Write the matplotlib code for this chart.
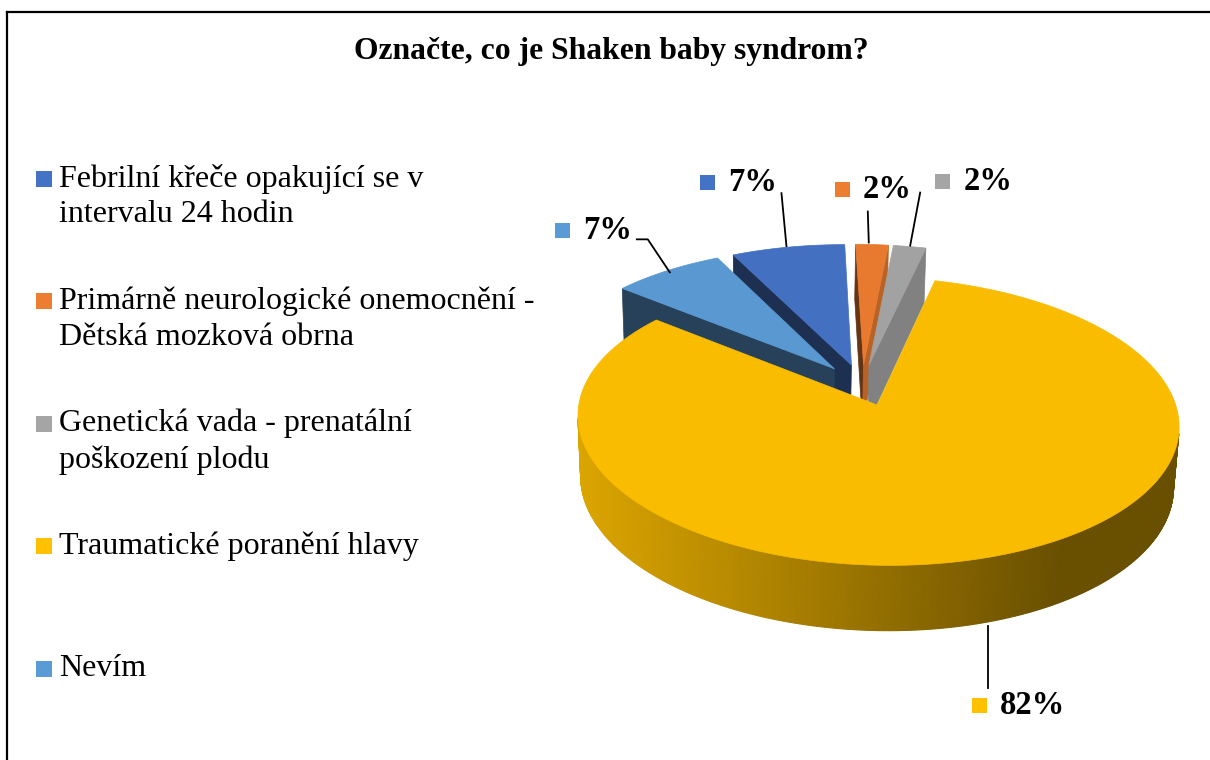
import numpy as np
import matplotlib.pyplot as plt
from matplotlib.patches import Polygon, Rectangle
from matplotlib.lines import Line2D
from matplotlib.colors import to_rgb

# data
categories = [
    "Febrilní křeče opakující se v\nintervalu 24 hodin",
    "Primárně neurologické onemocnění -\nDětská mozková obrna",
    "Genetická vada - prenatální\npoškození plodu",
    "Traumatické poranění hlavy",
    "Nevím",
]
values = [7, 2, 2, 82, 7]
colors = ["#4472C4", "#ED7D31", "#A5A5A5", "#FFC000", "#5B9BD5"]
title = "Označte, co je Shaken baby syndrom?"

# label placement relative to rim point (leader path, then label group left/centre)
leaders = [[(-1.4, -1), (-6.4, -54)],
           [(-3.3, -2), (-4.3, -33)],
           [(0.5, -1), (10.5, -54)],
           [(-0.7, 4), (-0.7, 66)],
           [(3, 1.5), (-19, -31.5), (-30, -31.5)]]
label_pos = [(-87.4, -65), (-37.3, -55), (25.5, -65), (-16.2, 84), (-112, -40.5)]

# 3d pie setup (pixels), camera sits a little left of the pie centre
CX, CY = 774, 385
F, DIST, TILT = 2350.0, 8.0, np.radians(28)
CAM_X = -0.3
THICK = 0.233
EXPLODE = 0.15
START = 335.0
serif = ["Liberation Serif", "DejaVu Serif"]


def proj(X, Y, Z):
    X, Y, Z = np.asarray(X, float), np.asarray(Y, float), np.asarray(Z, float)
    depth = DIST + Y * np.cos(TILT) - Z * np.sin(TILT)
    up = Y * np.sin(TILT) + Z * np.cos(TILT)
    return CX + F * (X - CAM_X) / depth, CY - F * up / depth


def shade(c, k):
    r, g, b = to_rgb(c)
    return (r * k, g * k, b * k)


def visible(px, py, nx, ny):
    # vertical face, normal (nx, ny) - facing the camera?
    cam_y = -DIST * np.cos(TILT)
    return (CAM_X - px) * nx + (cam_y - py) * ny > 0


fig = plt.figure(figsize=(12.1, 7.6), dpi=100)
ax = fig.add_axes([0, 0, 1, 1])
ax.set_xlim(0, 1210)
ax.set_ylim(760, 0)
ax.axis("off")

total = sum(values)
slices = []
a = START
for i, v in enumerate(values):
    span = v / total * 360.0
    slices.append((i, a, a + span))
    a += span

# far slices first
order = sorted(slices, key=lambda s: -np.cos(np.radians((s[1] + s[2]) / 2)))

rims = {}
for i, a0, a1 in order:
    mid = np.radians((a0 + a1) / 2)
    ox, oy = EXPLODE * np.sin(mid), EXPLODE * np.cos(mid)
    base = colors[i]
    t0, t1 = np.radians(a0), np.radians(a1)

    # radial cut faces
    for t, sgn in ((t0, -1), (t1, 1)):
        nt = t + sgn * np.pi / 2
        nx, ny = np.sin(nt), np.cos(nt)
        mx, my = ox + 0.5 * np.sin(t), oy + 0.5 * np.cos(t)
        if visible(mx, my, nx, ny):
            X = [ox, ox + np.sin(t), ox + np.sin(t), ox]
            Y = [oy, oy + np.cos(t), oy + np.cos(t), oy]
            Z = [0, 0, -THICK, -THICK]
            sx, sy = proj(X, Y, Z)
            k = 0.42 if nx < 0 else 0.78
            ax.add_patch(Polygon(np.c_[sx, sy], closed=True, fc=shade(base, k),
                                 ec=shade(base, k), lw=0.5, zorder=2))

    # outer wall, gradient along screen x
    ts = np.linspace(t0, t1, max(int((a1 - a0) * 2), 4))
    for ta, tb in zip(ts[:-1], ts[1:]):
        tm = (ta + tb) / 2
        if not visible(ox + np.sin(tm), oy + np.cos(tm), np.sin(tm), np.cos(tm)):
            continue
        X = [ox + np.sin(ta), ox + np.sin(tb), ox + np.sin(tb), ox + np.sin(ta)]
        Y = [oy + np.cos(ta), oy + np.cos(tb), oy + np.cos(tb), oy + np.cos(ta)]
        Z = [0, 0, -THICK, -THICK]
        sx, sy = proj(X, Y, Z)
        u = np.clip((sx.mean() - 580) / (1060 - 580), 0, 1)
        k = 0.86 - 0.45 * u
        ax.add_patch(Polygon(np.c_[sx, sy], closed=True, fc=shade(base, k),
                             ec=shade(base, k), lw=0.8, zorder=2))

    # top face
    ts = np.linspace(t0, t1, max(int((a1 - a0) * 2), 4))
    X = np.r_[ox, ox + np.sin(ts)]
    Y = np.r_[oy, oy + np.cos(ts)]
    sx, sy = proj(X, Y, np.zeros_like(X))
    ax.add_patch(Polygon(np.c_[sx, sy], closed=True, fc=shade(base, 0.98),
                         ec=shade(base, 0.98), lw=0.5, zorder=2))

    rz = -THICK if np.cos(mid) < 0 else 0.0
    rx, ry = proj(ox + np.sin(mid), oy + np.cos(mid), rz)
    rims[i] = (float(rx), float(ry))

# data labels with leader lines
for i, v in enumerate(values):
    rx, ry = rims[i]
    pts = np.array(leaders[i], float) + (rx, ry)
    ax.add_line(Line2D(pts[:, 0], pts[:, 1], color="black", lw=1.3, zorder=3))
    lx, ly = rx + label_pos[i][0], ry + label_pos[i][1]
    ax.add_patch(Rectangle((lx, ly - 7.5), 15, 15, fc=colors[i], ec="none", zorder=3))
    ax.text(lx + 28, ly, f"{round(v / total * 100)}%", ha="left", va="center",
            fontsize=23.5, fontweight="bold", family=serif, zorder=4)

# legend
for i, name in enumerate(categories):
    y = 178.5 + i * 122.5
    ax.add_patch(Rectangle((36, y - 8), 16, 16, fc=colors[i], ec="none"))
    for j, line in enumerate(name.split("\n")):
        ax.text(59, y + j * 36.5, line, ha="left", va="center", fontsize=23,
                family=serif)

ax.text(611, 52, title, ha="center", va="center", fontsize=22.8,
        fontweight="bold", family=serif)

# chart frame (top and left edges are what shows)
fig.add_artist(Line2D([7, 1210], [748, 748], transform=None, color="black", lw=1.6))
fig.add_artist(Line2D([7, 7], [0, 748], transform=None, color="black", lw=1.6))

fig.savefig("out.png", dpi=100)
